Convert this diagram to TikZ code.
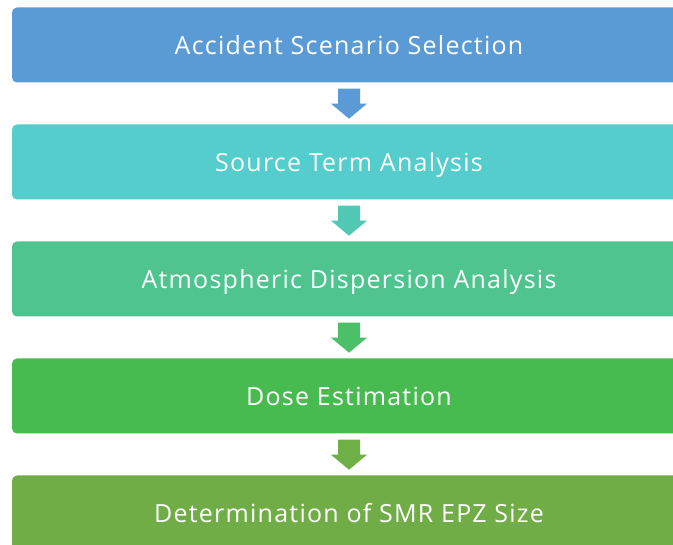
\documentclass[tikz,border=0pt]{standalone}
\usepackage{fontspec}
\setmainfont[LetterSpace=5]{Open Sans}
\usetikzlibrary{calc}

\definecolor{stepA}{RGB}{91,155,213}
\definecolor{stepB}{RGB}{84,205,204}
\definecolor{stepC}{RGB}{79,196,143}
\definecolor{stepD}{RGB}{71,187,80}
\definecolor{stepE}{RGB}{112,173,71}
\definecolor{arrAB}{RGB}{91,155,213}
\definecolor{arrBC}{RGB}{82,201,180}
\definecolor{arrCD}{RGB}{76,192,105}
\definecolor{arrDE}{RGB}{110,176,70}

\tikzset{
  stagebox/.style={rectangle, rounded corners=5pt, minimum width=674pt,
    minimum height=75pt, inner sep=0pt, text=white,
    text height=23pt, text depth=3pt,
    font=\fontsize{25}{30}\selectfont},
  stagetext/.style={text=white, inner sep=0pt, text height=23pt,
    text depth=3pt, font=\fontsize{25}{30}\selectfont},
}

% block arrow hanging below box #1, coloured #2
\newcommand{\downblock}[2]{%
  \fill[#2] ($(#1.south)+(-11,6)$) -- ($(#1.south)+(11,6)$)
    -- ($(#1.south)+(11,21)$) -- ($(#1.south)+(18,21)$)
    -- ($(#1.south)+(0,36)$) -- ($(#1.south)+(-18,21)$)
    -- ($(#1.south)+(-11,21)$) -- cycle;}

\begin{document}
\begin{tikzpicture}[x=1pt,y=-1pt]
  \useasboundingbox (0,0) rectangle (673,545);
  \clip (0,0) rectangle (673,545);
  \fill[white] (0,0) rectangle (673,545);

  \node[stagebox, fill=stepA] (s1) at (349,45)  {Accident Scenario Selection};
  \node[stagebox, fill=stepB] (s2) at (349,162) {Source Term Analysis};
  \node[stagebox, fill=stepC] (s3) at (349,279) {Atmospheric Dispersion Analysis};
  \node[stagebox, fill=stepD] (s4) at (349,396) {Dose Estimation};
  \node[stagebox, fill=stepE] (s5) at (349,513) {};
  \node[stagetext] (t5) at (349,513) {Determination of SMR EPZ Size};

  \downblock{s1}{arrAB}
  \downblock{s2}{arrBC}
  \downblock{s3}{arrCD}
  \downblock{s4}{arrDE}
\end{tikzpicture}
\end{document}
